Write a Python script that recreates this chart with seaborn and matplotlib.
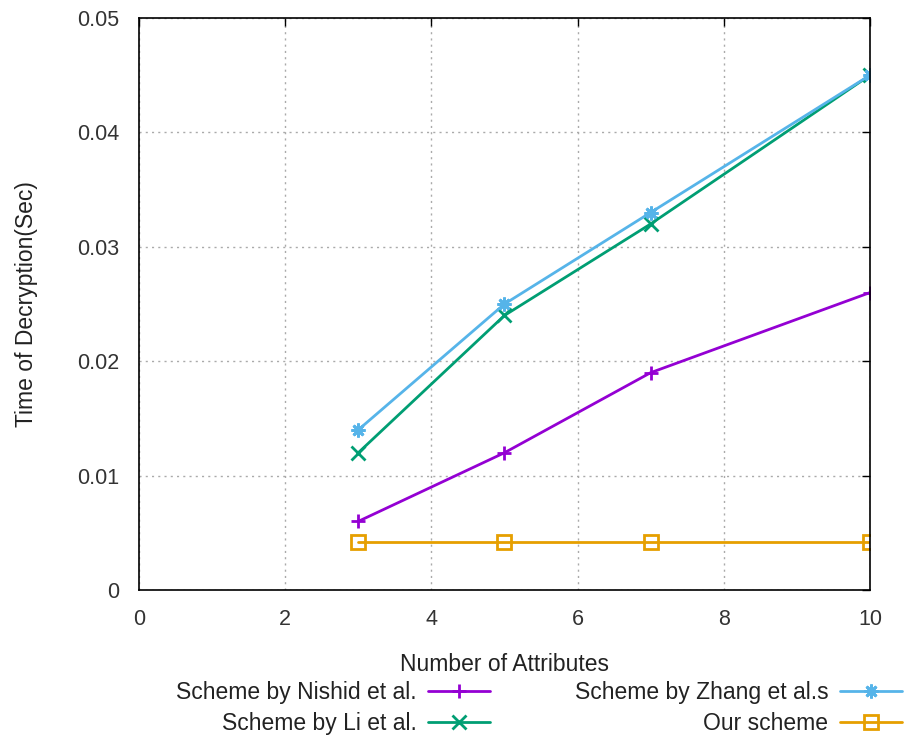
import numpy as np
import pandas as pd
import matplotlib
matplotlib.use('Agg')
import matplotlib.pyplot as plt
import seaborn as sns

# values
attributes = [3, 5, 7, 10]
nishid = [0.006, 0.012, 0.019, 0.026]
li = [0.012, 0.024, 0.032, 0.045]
zhang = [0.014, 0.025, 0.033, 0.045]
ours = [0.0042, 0.0042, 0.0042, 0.0042]

names = ['Scheme by Nishid et al.', 'Scheme by Li et al.',
         'Scheme by Zhang et al.s', 'Our scheme']

data = pd.DataFrame({
    'x': attributes * 4,
    'y': nishid + li + zhang + ours,
    'scheme': np.repeat(names, len(attributes)),
})

sns.set_style('white')
plt.rcParams['font.family'] = ['Liberation Sans', 'DejaVu Sans']

colors = ['#9400D3', '#009E73', '#56B4E9', '#E69F00']
markers = ['+', 'x', (8, 2, 0), 's']

fig = plt.figure(figsize=(9.1, 7.39), dpi=100)
ax = fig.add_axes([0.1527, 0.2016, 0.8033, 0.774])

for name, col, mk in zip(names, colors, markers):
    sub = data[data['scheme'] == name]
    sns.lineplot(data=sub, x='x', y='y', ax=ax, color=col, marker=mk,
                 markersize=10, markeredgewidth=2,
                 markerfacecolor='none' if mk == 's' else col,
                 markeredgecolor=col, linewidth=2, label=name, legend=False)

ax.set_xlim(0, 10)
ax.set_ylim(0, 0.05)
ax.set_xticks([0, 2, 4, 6, 8, 10])
ax.set_yticks([0, 0.01, 0.02, 0.03, 0.04, 0.05])
ax.set_yticklabels(['0', '0.01', '0.02', '0.03', '0.04', '0.05'])
ax.grid(True, color='#aaaaaa', linestyle=(0, (1.5, 3)), linewidth=1)
for s in ax.spines.values():
    s.set_color('black')
    s.set_linewidth(1.2)
ax.tick_params(direction='in', length=6, width=1, labelsize=15.5,
               top=True, right=True, colors='black', pad=14)
for lab in ax.get_xticklabels() + ax.get_yticklabels():
    lab.set_color('#333333')
ax.set_xlabel('Number of Attributes', fontsize=16.5, labelpad=16, color='#222222')
ax.set_ylabel('Time of Decryption(Sec)', fontsize=16.5, labelpad=28, color='#222222')

handles, labels = ax.get_legend_handles_labels()
leg = fig.legend(handles, labels, loc='lower center', bbox_to_anchor=(0.592, -0.022),
                 ncol=2, markerfirst=False, frameon=False, fontsize=16.5,
                 handlelength=2.7, handletextpad=0.5, columnspacing=3.7,
                 labelspacing=0.35)
for t in leg.get_texts():
    t.set_color('#222222')

fig.savefig('out.png', dpi=100)
